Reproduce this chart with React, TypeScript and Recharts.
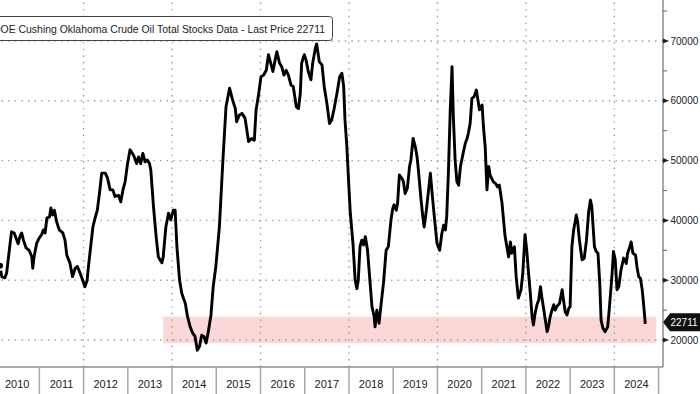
import { LineChart, Line, XAxis, YAxis, ReferenceArea, ReferenceLine } from "recharts";

// weekly-ish samples, fractional years
const dates = [
  2010.11, 2010.15, 2010.22, 2010.26, 2010.32, 2010.37, 2010.43, 2010.47, 2010.52, 2010.56, 2010.6, 2010.64, 2010.7, 2010.77, 2010.83, 2010.85, 2010.88, 2010.94,
  2011.0, 2011.05, 2011.09, 2011.13, 2011.17, 2011.23, 2011.26, 2011.3, 2011.34, 2011.39, 2011.45, 2011.53, 2011.58, 2011.62, 2011.69, 2011.75, 2011.81, 2011.86, 2011.92, 2011.98,
  2012.03, 2012.08, 2012.11, 2012.16, 2012.21, 2012.26, 2012.31, 2012.36, 2012.41, 2012.49, 2012.54, 2012.6, 2012.66, 2012.71, 2012.79, 2012.84, 2012.89, 2012.94, 2012.99,
  2013.05, 2013.13, 2013.2, 2013.24, 2013.29, 2013.34, 2013.39, 2013.44, 2013.49, 2013.52, 2013.58, 2013.64, 2013.69, 2013.77, 2013.8, 2013.86, 2013.92, 2013.97,
  2014.03, 2014.07, 2014.11, 2014.17, 2014.22, 2014.3, 2014.35, 2014.41, 2014.47, 2014.52, 2014.57, 2014.62, 2014.67, 2014.72, 2014.77, 2014.82, 2014.88, 2014.93, 2014.99,
  2015.07, 2015.15, 2015.22, 2015.3, 2015.37, 2015.43, 2015.46, 2015.52, 2015.58, 2015.65, 2015.73, 2015.8, 2015.86, 2015.9, 2015.95,
  2016.01, 2016.07, 2016.13, 2016.18, 2016.23, 2016.28, 2016.33, 2016.37, 2016.43, 2016.48, 2016.53, 2016.58, 2016.63, 2016.69, 2016.74, 2016.81, 2016.86, 2016.9, 2016.93, 2016.99,
  2017.03, 2017.08, 2017.14, 2017.18, 2017.24, 2017.27, 2017.33, 2017.39, 2017.44, 2017.5, 2017.56, 2017.61, 2017.66, 2017.73, 2017.79, 2017.84, 2017.88, 2017.91, 2017.95, 2017.99,
  2018.03, 2018.09, 2018.14, 2018.18, 2018.21, 2018.25, 2018.29, 2018.33, 2018.37, 2018.42, 2018.46, 2018.52, 2018.57, 2018.59, 2018.63, 2018.68, 2018.72, 2018.78, 2018.84, 2018.89, 2018.95, 2018.99,
  2019.02, 2019.07, 2019.1, 2019.14, 2019.2, 2019.23, 2019.27, 2019.32, 2019.37, 2019.4, 2019.45, 2019.5, 2019.54, 2019.57, 2019.63, 2019.67, 2019.7, 2019.75, 2019.8, 2019.84, 2019.88, 2019.93, 2019.99,
  2020.05, 2020.1, 2020.14, 2020.18, 2020.21, 2020.25, 2020.29, 2020.33, 2020.36, 2020.4, 2020.44, 2020.48, 2020.52, 2020.58, 2020.63, 2020.67, 2020.7, 2020.74, 2020.78, 2020.83, 2020.88, 2020.91, 2020.95,
  2021.01, 2021.04, 2021.08, 2021.12, 2021.16, 2021.19, 2021.26, 2021.31, 2021.36, 2021.4, 2021.46, 2021.53, 2021.61, 2021.65, 2021.68, 2021.74, 2021.78, 2021.83, 2021.89, 2021.93, 2021.98,
  2022.02, 2022.06, 2022.1, 2022.14, 2022.17, 2022.21, 2022.25, 2022.29, 2022.33, 2022.36, 2022.4, 2022.44, 2022.48, 2022.51, 2022.55, 2022.59, 2022.63, 2022.66, 2022.7, 2022.76, 2022.82, 2022.85, 2022.89, 2022.93, 2022.97,
  2023.0, 2023.04, 2023.08, 2023.14, 2023.17, 2023.21, 2023.27, 2023.32, 2023.37, 2023.42, 2023.46, 2023.49, 2023.55, 2023.59, 2023.63, 2023.67, 2023.7, 2023.74, 2023.79, 2023.85, 2023.89, 2023.95, 2023.98,
  2024.02, 2024.06, 2024.1, 2024.15, 2024.21, 2024.27, 2024.3, 2024.35, 2024.38, 2024.42, 2024.48, 2024.51, 2024.55, 2024.59, 2024.63, 2024.66, 2024.7,
];

// thousand barrels
const stocks = [
  32400, 30600, 30400, 31200, 35000, 38100, 37900, 37100, 36100, 37300, 37900, 36700, 35400, 35000, 33900, 32000, 33900, 36200,
  37100, 37600, 38400, 37900, 40400, 40600, 42100, 40900, 41700, 39800, 38400, 37900, 36700, 34200, 32900, 30600, 32000, 32300, 31200, 30000,
  28900, 30000, 32300, 35600, 38900, 40400, 41700, 44600, 47900, 47900, 47100, 45100, 45100, 44000, 44200, 43100, 45100, 46500, 49300,
  51800, 50900, 49500, 50600, 49500, 51200, 49800, 50100, 49500, 48400, 42300, 37300, 33900, 32900, 33900, 38900, 41200, 40100,
  41700, 41700, 35600, 30000, 27800, 26100, 23900, 22200, 21100, 20600, 18300, 18900, 20800, 20600, 19500, 21400, 24200, 28900, 32300,
  38900, 50100, 59000, 62100, 60100, 58700, 56500, 57600, 57900, 57100, 53200, 53700, 53400, 58500, 60700,
  64000, 64300, 65100, 67700, 66300, 64900, 66800, 68200, 66300, 65700, 64300, 65100, 64300, 62600, 62400, 59000, 58700, 61300, 66300, 67700,
  66800, 64900, 63500, 66300, 68800, 69500, 66500, 66000, 62400, 59600, 56200, 56800, 58500, 61300, 64000, 64600, 62400, 56800, 52600, 46800,
  41200, 36200, 30000, 28600, 30000, 35600, 36700, 35900, 37300, 35000, 31200, 25600, 23900, 22200, 25000, 22800, 25600, 29500, 35000, 35600, 40100, 42000,
  42600, 41700, 42900, 47600, 47000, 46500, 44500, 45400, 49000, 50100, 53700, 52300, 50600, 48400, 43400, 40600, 38900, 41700, 45100, 47900, 44500, 40600, 36200,
  35000, 37800, 39200, 38400, 40600, 48400, 58500, 65700, 57300, 50100, 46500, 45900, 49000, 51200, 52900, 53700, 54600, 56200, 60400, 60700, 61800, 60400, 58500,
  59300, 55700, 52300, 45100, 49000, 47600, 46500, 46200, 45600, 45900, 42900, 37300, 33900, 36400, 34500, 35600, 30600, 27000, 28400, 31200, 37600,
  35000, 31200, 27800, 23900, 22500, 24500, 25900, 26700, 28900, 27200, 25300, 23300, 21400, 22200, 23900, 25000, 25900, 25000, 25600, 26100, 28400, 26700, 24700, 24200, 25300,
  25600, 35600, 38400, 40900, 39800, 36700, 33400, 33700, 36700, 41500, 43400, 42300, 35600, 34800, 34500, 29500, 23300, 22000, 21400, 22200, 25600, 31200, 34800,
  33400, 28400, 28900, 31700, 33700, 32800, 34500, 35600, 36400, 34500, 34200, 32300, 30600, 30300, 28400, 26100, 22711,
];

const yearLabels = ["2010", "2011", "2012", "2013", "2014", "2015", "2016", "2017", "2018", "2019", "2020", "2021", "2022", "2023", "2024"];
const valueTicks = [20000, 25000, 30000, 35000, 40000, 45000, 50000, 55000, 60000, 65000, 70000, 75000];
const gridYears = [2012, 2014, 2016, 2018, 2020, 2022, 2024];
const gridValues = [20000, 30000, 40000, 50000, 60000, 70000];
const bandYears = [2013.8, 2024.95];
const bandValues = [19450, 23900];
const lastPrice = 22711;
const title = "DOE Cushing Oklahoma Crude Oil Total Stocks Data - Last Price 22711";

const data = dates.map((t, i) => ({ t, v: stocks[i] }));

const W = 700;
const H = 394;
const AXIS_H = 27;
const AXIS_W = 37;
const X_DOMAIN: [number, number] = [2010.11, 2025.1];
const Y_DOMAIN: [number, number] = [15490, 76850];
const halfYear = (W - AXIS_W) / (X_DOMAIN[1] - X_DOMAIN[0]) / 2;
const FONT = "'Liberation Sans', Arial, sans-serif";

function YearTick({ x, y, payload }: any) {
  return (
    <g>
      <line x1={x} x2={x} y1={y} y2={y + AXIS_H} stroke="#a8a8a8" strokeWidth={1.5} />
      <text x={x - halfYear} y={y + 21} textAnchor="middle" fontSize={11} fontFamily={FONT} fill="#222">
        {String(payload.value - 1)}
      </text>
    </g>
  );
}

function ValueTick({ x, y, payload }: any) {
  if (payload.value % 10000 !== 0) {
    return <line x1={x} x2={x + 4} y1={y} y2={y} stroke="#666" />;
  }
  return (
    <g>
      <polygon points={`${x},${y - 2.5} ${x + 6},${y} ${x},${y + 2.5}`} fill="#222" />
      <text x={x + 7.5} y={y} dy="0.36em" fontSize={10} fontFamily={FONT} fill="#222">
        {payload.value}
      </text>
    </g>
  );
}

function PriceTag(props: any) {
  const vb = props.viewBox || {};
  const x = vb.x + vb.width;
  const y = vb.y - 1.5;
  return (
    <g>
      <polygon points={`${x},${y} ${x + 7},${y - 9} ${W},${y - 9} ${W},${y + 9} ${x + 7},${y + 9}`} fill="#111" />
      <text x={x + 7.5} y={y} dy="0.36em" fontSize={10} fontFamily={FONT} fill="#fff">
        {lastPrice}
      </text>
    </g>
  );
}

export default function App() {
  return (
    <div style={{ position: "absolute", left: 0, top: 0, width: W, height: H, background: "#fff" }}>
      <LineChart width={W} height={H} data={data} margin={{ top: 0, right: 0, bottom: 0, left: 0 }}>
        <XAxis
          dataKey="t"
          type="number"
          domain={X_DOMAIN}
          allowDataOverflow
          ticks={yearLabels.map((l) => Number(l) + 1)}
          interval={0}
          tick={<YearTick />}
          tickLine={false}
          tickSize={0}
          tickMargin={0}
          height={AXIS_H}
          axisLine={{ stroke: "#555" }}
        />
        <YAxis
          orientation="right"
          type="number"
          domain={Y_DOMAIN}
          allowDataOverflow
          ticks={valueTicks}
          interval={0}
          tick={<ValueTick />}
          tickLine={false}
          tickSize={0}
          tickMargin={0}
          width={AXIS_W}
          axisLine={{ stroke: "#555" }}
        />
        <ReferenceArea
          x1={bandYears[0]}
          x2={bandYears[1]}
          y1={bandValues[0]}
          y2={bandValues[1]}
          fill="#fbd7d7"
          fillOpacity={1}
          stroke="none"
        />
        {gridValues.map((v) => (
          <ReferenceLine key={"h" + v} y={v} stroke="#9c9c9c" strokeWidth={1.4} strokeDasharray="1.4 5.2" />
        ))}
        {gridYears.map((v) => (
          <ReferenceLine key={"v" + v} x={v} stroke="#9c9c9c" strokeWidth={1.4} strokeDasharray="1.4 5.2" />
        ))}
        <ReferenceLine y={lastPrice} stroke="none" label={(p: any) => <PriceTag {...p} />} />
        <Line
          type="linear"
          dataKey="v"
          stroke="#000"
          strokeWidth={2.9}
          strokeLinejoin="round"
          dot={false}
          isAnimationActive={false}
        />
      </LineChart>
      <svg width={W} height={H} style={{ position: "absolute", left: 0, top: 0, pointerEvents: "none" }}>
        <rect x={-10} y={16.5} width={342.5} height={24} rx={3} fill="#fff" stroke="#444" />
        <text
          x={-7}
          y={32.5}
          fontSize={11}
          fontFamily={FONT}
          fill="#222"
          textLength={332}
          lengthAdjust="spacingAndGlyphs"
        >
          {title}
        </text>
      </svg>
    </div>
  );
}
